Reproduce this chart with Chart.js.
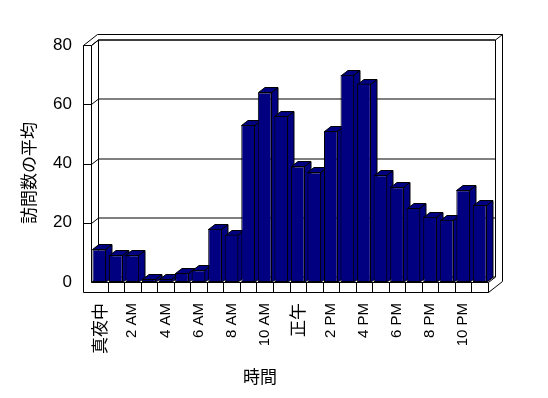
<!DOCTYPE html>
<html>
<head>
<meta charset="utf-8">
<script src="https://cdn.jsdelivr.net/npm/chart.js@4.4.0/dist/chart.umd.min.js"></script>
<style>
    html, body { margin: 0; padding: 0; background: #fff; }
</style>
</head>
<body>
<canvas id="visitsChart" width="548" height="398"></canvas>
<script>
const hours = ['真夜中', '1 AM', '2 AM', '3 AM', '4 AM', '5 AM', '6 AM', '7 AM', '8 AM', '9 AM', '10 AM', '11 AM',
    '正午', '1 PM', '2 PM', '3 PM', '4 PM', '5 PM', '6 PM', '7 PM', '8 PM', '9 PM', '10 PM', '11 PM'];
const avgVisits = [11, 9, 9, 1, 1, 3, 4, 18, 16, 53, 64, 56, 39, 37, 51, 70, 67, 36, 32, 25, 22, 21, 31, 26];
const yTicks = [0, 20, 40, 60, 80];
const xTitle = '時間';
const yTitle = '訪問数の平均';

const NAVY = '#000080';
const DX = 7, DY = -5.5;     // depth offset
const WALL = 8, FLOOR = 10;  // wall / floor thickness

function line(ctx, pts) {
    ctx.beginPath();
    ctx.moveTo(pts[0][0], pts[0][1]);
    for (let i = 1; i < pts.length; i++) ctx.lineTo(pts[i][0], pts[i][1]);
    ctx.stroke();
}

function poly(ctx, pts, fill) {
    ctx.beginPath();
    ctx.moveTo(pts[0][0], pts[0][1]);
    for (let i = 1; i < pts.length; i++) ctx.lineTo(pts[i][0], pts[i][1]);
    ctx.closePath();
    ctx.fillStyle = fill;
    ctx.fill();
    ctx.stroke();
}

// walls, floor, gridlines and the depth faces of the bars
const frame3d = {
    id: 'frame3d',
    beforeDatasetsDraw(chart) {
        const { ctx, chartArea: a, scales: { x, y } } = chart;
        const L = a.left + 0.5, R = a.right + 0.5;
        const T = Math.round(y.getPixelForValue(yTicks[yTicks.length - 1])) + 0.5;
        const B = Math.round(y.getPixelForValue(0)) + 0.5;
        ctx.save();
        ctx.strokeStyle = '#000';
        ctx.lineWidth = 1;

        // top outline of the walls
        poly(ctx, [[L - WALL, T], [L, T], [L + DX, T + DY], [R + DX, T + DY],
            [R + 2 * DX, T + 2 * DY], [L - WALL + 2 * DX, T + 2 * DY]], '#fff');
        // left wall front
        line(ctx, [[L - WALL, T], [L - WALL, B + FLOOR], [R, B + FLOOR], [R, B]]);
        line(ctx, [[L, T], [L, B]]);
        // inner corner and back wall right edges
        line(ctx, [[L + DX, T + DY], [L + DX, B + DY]]);
        line(ctx, [[R + DX, T + DY], [R + DX, B + DY], [R, B]]);
        line(ctx, [[R + 2 * DX, T + 2 * DY], [R + 2 * DX, B + FLOOR + 2 * DY], [R, B + FLOOR]]);
        line(ctx, [[L, B], [R, B]]);

        // gridlines on left wall and back wall
        yTicks.forEach(v => {
            const yv = Math.round(y.getPixelForValue(v)) + 0.5;
            const pts = v === 0 ? [] : [[L - WALL, yv], [L, yv]];
            pts.push([L, yv], [L + DX, yv + DY], [R + DX, yv + DY]);
            line(ctx, pts);
        });

        // tick marks on the floor front
        for (let i = 1; i < hours.length; i++) {
            const bx = Math.round((x.getPixelForValue(i - 1) + x.getPixelForValue(i)) / 2) + 0.5;
            line(ctx, [[bx, B], [bx, B + FLOOR]]);
        }

        // bar side and top faces
        const meta = chart.getDatasetMeta(0);
        meta.data.forEach(bar => {
            const l = Math.round(bar.x - bar.width / 2) + 0.5;
            const r = Math.round(bar.x + bar.width / 2) - 0.5;
            const t = Math.round(bar.y) + 0.5;
            const b = Math.round(bar.base) + 0.5;
            const dx = 6.5, dy = -5;
            poly(ctx, [[r, t], [r + dx, t + dy], [r + dx, b + dy], [r, b]], NAVY);
            poly(ctx, [[l, t], [r, t], [r + dx, t + dy], [l + dx, t + dy]], NAVY);
        });
        ctx.restore();
    },
    afterDraw(chart) {
        const { ctx } = chart;
        ctx.save();
        ctx.fillStyle = '#000';
        ctx.font = '17px "Noto Sans CJK JP"';
        ctx.textAlign = 'center';
        ctx.textBaseline = 'middle';
        ctx.fillText(xTitle, 260, 377);
        ctx.translate(28.5, 173);
        ctx.rotate(-Math.PI / 2);
        ctx.fillText(yTitle, 0, 0);
        ctx.restore();
    }
};

new Chart(document.getElementById('visitsChart'), {
    type: 'bar',
    data: {
        labels: hours,
        datasets: [{
            label: yTitle,
            data: avgVisits,
            backgroundColor: NAVY,
            borderColor: '#000',
            borderWidth: 1,
            borderSkipped: false,
            categoryPercentage: 1,
            barPercentage: 0.83
        }]
    },
    options: {
        responsive: false,
        animation: false,
        events: [],
        layout: { padding: { top: 45, right: 60, bottom: 0, left: 0 } },
        plugins: {
            legend: { display: false },
            tooltip: { enabled: false }
        },
        scales: {
            x: {
                grid: { display: false, drawTicks: false },
                border: { display: false },
                afterFit: (s) => { s.height = 116; },
                ticks: {
                    autoSkip: false,
                    maxRotation: 90,
                    minRotation: 90,
                    padding: 21,
                    color: '#000',
                    callback: (val, i) => (i % 2 === 0 ? hours[i] : ''),
                    font: (c) => (/[^\x00-\x7F]/.test(hours[c.index] || '')
                        ? { family: '"Noto Sans CJK JP"', size: 17 }
                        : { family: '"Liberation Sans"', size: 15 })
                }
            },
            y: {
                min: 0,
                max: 80,
                grid: { display: false, drawTicks: false },
                border: { display: false },
                afterFit: (s) => { s.width = 91; },
                ticks: {
                    stepSize: 20,
                    padding: 19,
                    color: '#000',
                    font: { family: '"Liberation Sans"', size: 17 }
                }
            }
        }
    },
    plugins: [frame3d]
});
</script>
</body>
</html>
